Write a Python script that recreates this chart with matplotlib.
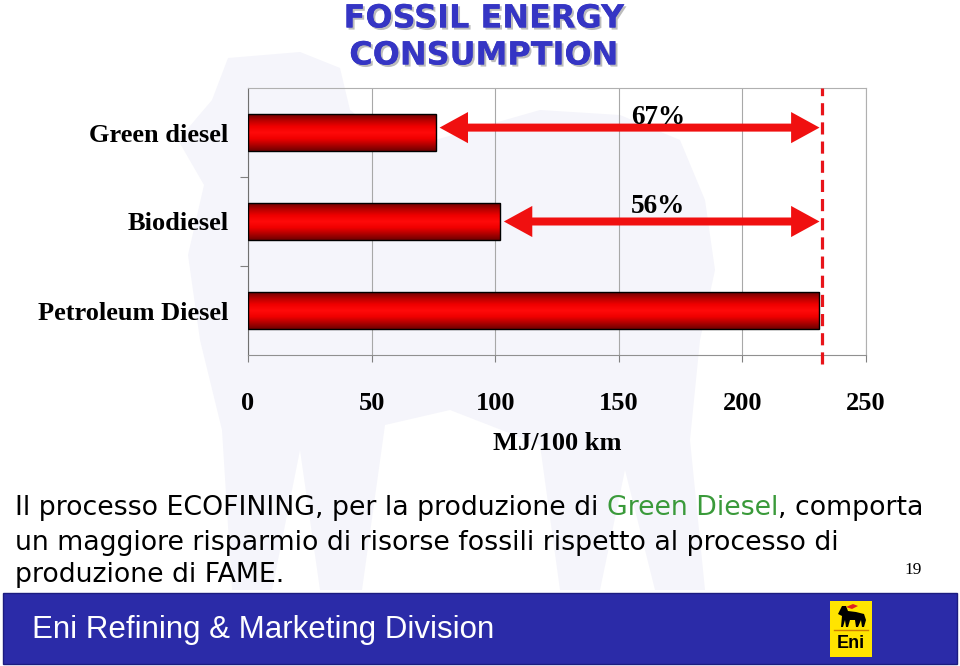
import numpy as np
import matplotlib
matplotlib.use("Agg")
import matplotlib.pyplot as plt
from matplotlib.patches import Rectangle, Polygon
from matplotlib.colors import LinearSegmentedColormap
import matplotlib.patheffects as pe

# ---------------- data ----------------
categories = ["Petroleum Diesel", "Biodiesel", "Green diesel"]
values = [231, 102, 76]
savings_labels = ["", "56%", "67%"]
xticks = [0, 50, 100, 150, 200, 250]
title_lines = ["FOSSIL ENERGY", "CONSUMPTION"]
xlabel = "MJ/100 km"
para_line1 = ["Il processo ECOFINING, per la produzione di ", "Green Diesel", ", comporta"]
para_line2 = "un maggiore risparmio di risorse fossili rispetto al processo di"
para_line3 = "produzione di FAME."
footer = "Eni Refining & Marketing Division"
page_no = "19"
reference = values[0]

SERIF = ["Liberation Serif", "DejaVu Serif"]
SANS = ["DejaVu Sans"]

fig = plt.figure(figsize=(9.6, 6.66), dpi=100)
fig.patch.set_facecolor("white")

# background axes in pixel coordinates
bg = fig.add_axes([0, 0, 1, 1])
bg.set_xlim(0, 960)
bg.set_ylim(666, 0)
bg.axis("off")

# faint watermark silhouette
wm = [(228, 58), (300, 52), (340, 68), (350, 110), (400, 150), (470, 130), (540, 110),
      (620, 115), (680, 140), (705, 200), (715, 270), (700, 340), (690, 440), (705, 590),
      (655, 590), (625, 470), (600, 590), (560, 590), (540, 445), (450, 410), (385, 425),
      (362, 590), (320, 590), (300, 450), (272, 590), (232, 590), (222, 430), (200, 340),
      (188, 255), (204, 185), (178, 140), (212, 100)]
bg.add_patch(Polygon(wm, closed=True, facecolor="#f5f5fb", edgecolor="none", zorder=0))

# ---------------- chart ----------------
ax = fig.add_axes([248 / 960, 1 - 355 / 666, (866 - 248) / 960, (355 - 88) / 666])
ax.set_facecolor("none")
ypos = np.arange(len(categories))
bars = ax.barh(ypos, values, height=0.41, facecolor="none", edgecolor="black",
               linewidth=1.0, zorder=4)
cmap = LinearSegmentedColormap.from_list(
    "bar", ["#6e0000", "#b00000", "#f00000", "#ff0a0a", "#f00000", "#b80000", "#6e0000"])
grad = np.linspace(0, 1, 200).reshape(-1, 1)
for b in bars:
    x0, y0 = b.get_x(), b.get_y()
    w, h = b.get_width(), b.get_height()
    im = ax.imshow(grad, extent=[x0, x0 + w, y0, y0 + h], aspect="auto",
                   cmap=cmap, origin="lower", zorder=3, interpolation="bilinear")
    im.set_clip_path(b)

ax.set_xlim(0, 250)
ax.set_ylim(-0.5, 2.5)
ax.set_xticks(xticks)
ax.set_xticklabels([str(t) for t in xticks], family=SERIF, weight="bold", fontsize=19)
ax.set_yticks(ypos)
ax.set_yticklabels(categories, family=SERIF, weight="bold", fontsize=19)
ax.set_yticks([0.5, 1.5], minor=True)
ax.tick_params(axis="y", which="major", length=0, pad=14)
ax.tick_params(axis="y", which="minor", length=6, color="#808080", width=0.8)
ax.tick_params(axis="x", which="major", length=5, color="#808080", width=0.8, pad=22)
ax.grid(axis="x", color="#a8a8a8", linewidth=0.8, zorder=0)
for s in ["top", "right"]:
    ax.spines[s].set_color("#b0b0b0")
    ax.spines[s].set_linewidth(0.8)
ax.spines["left"].set_color("#707070")
ax.spines["bottom"].set_color("#909090")
ax.set_axisbelow(True)
ax.set_xlabel(xlabel, family=SERIF, weight="bold", fontsize=19, labelpad=12)

# dashed reference line
ax.plot([reference + 1, reference + 1], [-0.6, 2.5], color="#e8141a", lw=2.3,
        dashes=(3.8, 2.2), clip_on=False, zorder=5)

# double-headed arrows
hl, hw, sw = 11.5, 0.175, 0.045
arrow_offsets = [0, 0.0, 0.055]
for i in (1, 2):
    x0 = values[i] + 1.5
    x1 = reference + 0.2
    y = ypos[i] + arrow_offsets[i]
    pts = [(x0, y), (x0 + hl, y + hw), (x0 + hl, y + sw), (x1 - hl, y + sw),
           (x1 - hl, y + hw), (x1, y), (x1 - hl, y - hw), (x1 - hl, y - sw),
           (x0 + hl, y - sw), (x0 + hl, y - hw)]
    ax.add_patch(Polygon(pts, closed=True, facecolor="#f01010", edgecolor="none", zorder=5))
    ax.text(166, ypos[i] + 0.17, savings_labels[i], family=SERIF, weight="bold",
            fontsize=19.5, ha="center", va="center", zorder=6)

# ---------------- title ----------------
for k, line in enumerate(title_lines):
    bg.text(484, 19 + 37 * k, line, family=SANS, weight="bold", fontsize=23,
            color="#3535c4", ha="center", va="center",
            path_effects=[pe.withSimplePatchShadow(offset=(1.5, -1.5),
                                                   shadow_rgbFace="#a0a0a0", alpha=0.7),
                          pe.Normal()])

# ---------------- paragraph ----------------
PFS = 19.3
t1 = bg.text(15, 515, para_line1[0], family=SANS, fontsize=PFS, color="black",
             ha="left", va="baseline")
t2 = bg.annotate(para_line1[1], xy=(1, 0), xycoords=t1, fontsize=PFS, family=SANS,
                 color="#3a9a3a", ha="left", va="bottom")
t3 = bg.annotate(para_line1[2], xy=(1, 0), xycoords=t2, fontsize=PFS, family=SANS,
                 color="black", ha="left", va="bottom")
bg.text(15, 550, para_line2, family=SANS, fontsize=PFS, color="black",
        ha="left", va="baseline")
bg.text(15, 582, para_line3, family=SANS, fontsize=PFS, color="black",
        ha="left", va="baseline")
bg.text(913, 570, page_no, family=SERIF, fontsize=12.5, color="black",
        ha="center", va="center")

# ---------------- footer banner ----------------
bg.add_patch(Rectangle((3, 593), 954, 71, facecolor="#2b2ba8", edgecolor="#1c1c80",
                       linewidth=1))
bg.text(32, 630, footer, family=["Liberation Sans", "DejaVu Sans"], fontsize=22.5,
        color="white", ha="left", va="center")
# logo
bg.add_patch(Rectangle((830, 601), 42, 56, facecolor="#ffe400", edgecolor="none"))
bg.plot([834, 868], [630, 630], color="#d08000", lw=1)
dog = [(838, 614), (842, 606), (846, 606), (848, 611), (856, 612), (864, 614),
       (866, 620), (864, 627), (862, 627), (861, 620), (858, 627), (856, 627),
       (855, 620), (850, 620), (848, 627), (846, 627), (845, 620), (843, 627),
       (841, 627), (842, 616)]
bg.add_patch(Polygon(dog, closed=True, facecolor="black", edgecolor="none"))
bg.add_patch(Polygon([(846, 607), (853, 604), (858, 606), (852, 609)], closed=True,
                     facecolor="#e02020", edgecolor="none"))
bg.text(851, 644, "Eni", family=["Liberation Sans", "DejaVu Sans"], weight="bold",
        fontsize=13, color="black", ha="center", va="center")

fig.savefig("out.png", dpi=100)
